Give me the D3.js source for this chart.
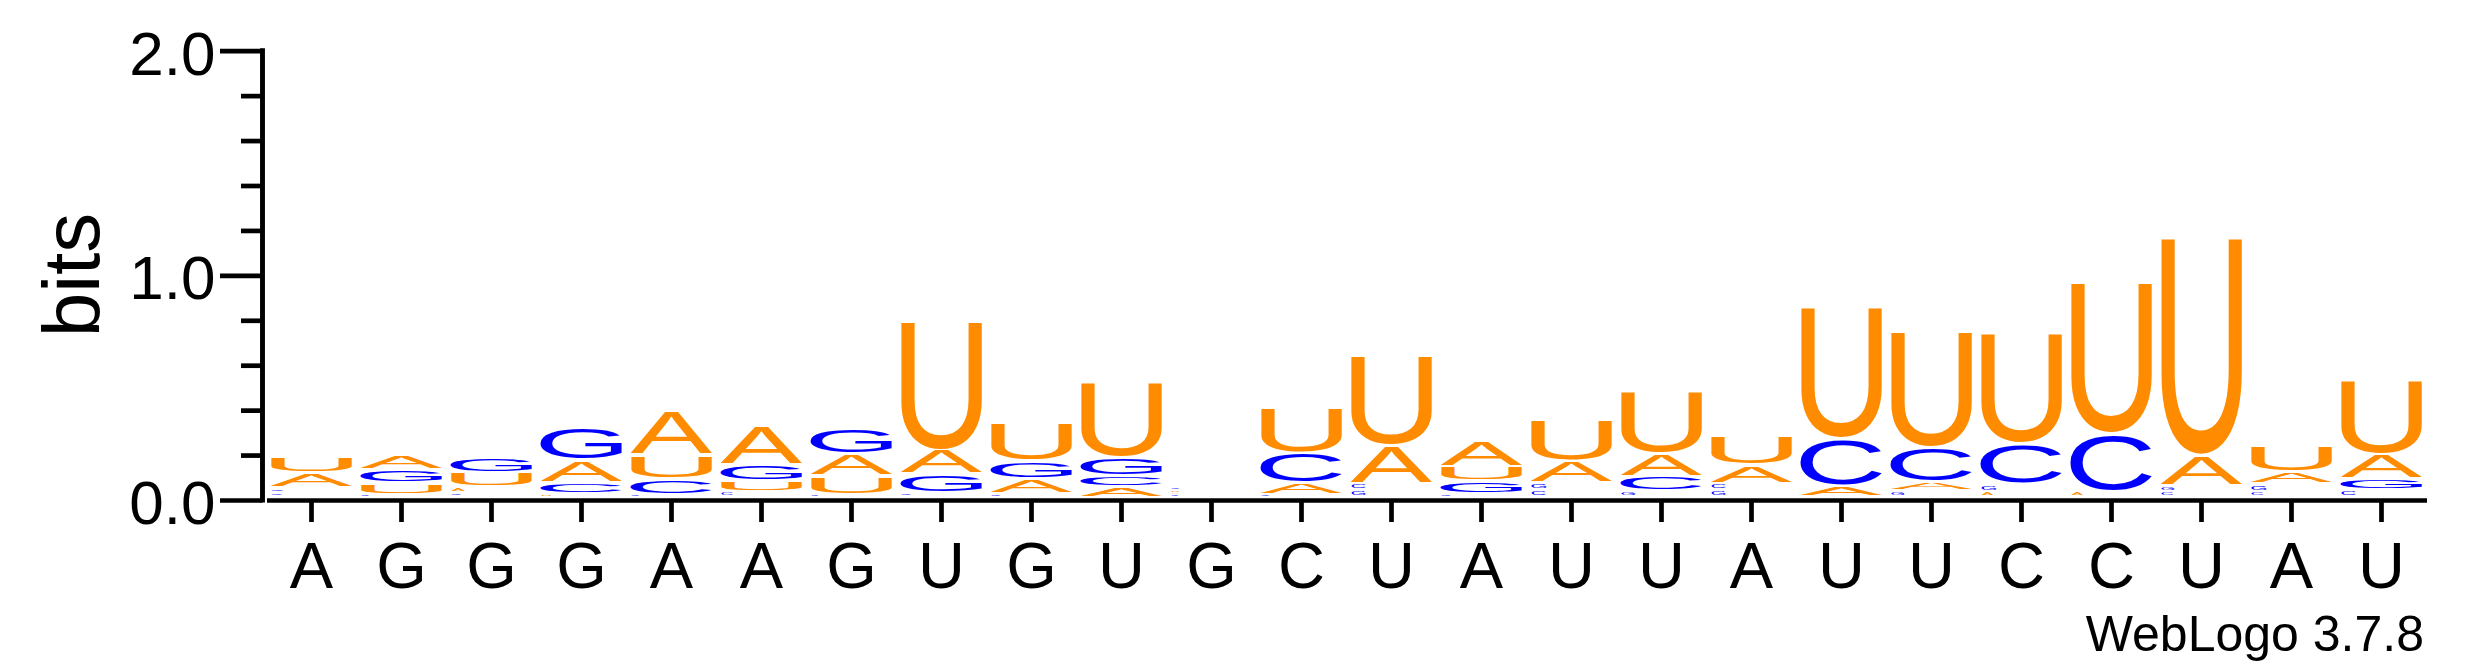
<!DOCTYPE html>
<html><head><meta charset="utf-8">
<script src="https://cdn.jsdelivr.net/npm/d3@7"></script>
<style>body{margin:0;background:#fff} svg{display:block}</style>
</head><body>
<svg id="chart" width="2475" height="667"></svg>
<script>
// ---- data ----
const consensus = ["A","G","G","G","A","A","G","U","G","U","G","C","U","A","U","U","A","U","U","C","C","U","A","U"];
const bitsA = [0.066,0.065,0.029,0.099,0.197,0.175,0.098,0.107,0.065,0.045,0.011,0.051,0.169,0.118,0.098,0.102,0.084,0.045,0.042,0.025,0.024,0.134,0.053,0.110];
const bitsC = [0.020,0.012,0.018,0.048,0.067,0.024,0.010,0.018,0.016,0.048,0.010,0.134,0.031,0.017,0.031,0.063,0.031,0.212,0.153,0.180,0.254,0.025,0.025,0.032];
const bitsG = [0.023,0.062,0.065,0.145,0.012,0.071,0.115,0.085,0.078,0.083,0.012,0.012,0.030,0.055,0.033,0.029,0.030,0.004,0.027,0.032,0.003,0.027,0.033,0.049];
const bitsU = [0.073,0.050,0.062,0.017,0.108,0.049,0.085,0.572,0.169,0.337,0.011,0.205,0.401,0.063,0.187,0.276,0.130,0.587,0.515,0.491,0.672,0.970,0.117,0.333];
const yMajorTicks = [0, 1, 2];
const yMinorTicks = [0.2,0.4,0.6,0.8,1.2,1.4,1.6,1.8];
const yTickLabels = ["0.0","1.0","2.0"];
const yTitle = "bits";
const footer = "WebLogo 3.7.8";
const letterColors = {A:"#ff8c00", U:"#ff8c00", C:"#0000ff", G:"#0000ff"};

// ---- setup ----
const svg = d3.select("#chart");
const FONT = '"Liberation Sans", Arial, Helvetica, sans-serif';
const x = d3.scaleBand().domain(d3.range(consensus.length)).range([266.5, 2426.5]).paddingInner(0).paddingOuter(0);
const y = d3.scaleLinear().domain([0, 2]).range([500, 50.7]);

// glyph ink metrics
const ctx = document.createElement("canvas").getContext("2d");
ctx.font = "100px " + FONT;
const metrics = {};
["A","C","G","U"].forEach(ch => {
  const m = ctx.measureText(ch);
  metrics[ch] = {l: m.actualBoundingBoxLeft, r: m.actualBoundingBoxRight, a: m.actualBoundingBoxAscent, d: m.actualBoundingBoxDescent};
});

const columns = consensus.map((c, i) => {
  const letters = [
    {ch:"A", v:bitsA[i]}, {ch:"C", v:bitsC[i]}, {ch:"G", v:bitsG[i]}, {ch:"U", v:bitsU[i]}
  ].sort((a, b) => a.v - b.v);
  let cum = 0;
  letters.forEach(l => { l.y0 = cum; cum += l.v; l.y1 = cum; l.i = i; });
  return letters;
});

const gLogo = svg.append("g");
const letterW = 82;
const lift = 3;
columns.forEach(col => {
  col.forEach(l => {
    const top = y(l.y1) - lift, bot = y(l.y0) - lift;
    const h = bot - top;
    const left = x(l.i) + x.bandwidth() / 2 - letterW / 2;
    let inkTop, inkH, w, x0;
    if (h >= 8) { inkTop = top + 1.5; inkH = h - 3; w = letterW; x0 = left; }
    else if (h >= 1.5) {
      // very small glyphs collapse to a tiny mark at the left of the column
      inkH = Math.max(1, h - 3.5); inkTop = top + (h - inkH) / 2;
      w = 3 + h * 1.6; x0 = left + 1;
    } else return;
    const m = metrics[l.ch];
    const sx = w / (m.l + m.r), sy = inkH / (m.a + m.d);
    gLogo.append("text")
      .attr("font-family", FONT).attr("font-size", 100)
      .attr("fill", letterColors[l.ch])
      .attr("transform", `translate(${x0},${inkTop}) scale(${sx},${sy}) translate(${m.l},${m.a})`)
      .text(l.ch);
  });
});

// ---- axes ----
const yAxisX = 262.5;
const gMinor = svg.append("g").attr("transform", `translate(${yAxisX},0)`)
  .call(d3.axisLeft(y).tickValues(yMinorTicks).tickSize(21.5).tickSizeOuter(0).tickFormat(""));
gMinor.select(".domain").remove();
gMinor.selectAll("text").remove();
const gY = svg.append("g").attr("transform", `translate(${yAxisX},0)`)
  .call(d3.axisLeft(y).tickValues(yMajorTicks).tickSize(42.5).tickSizeOuter(0).tickPadding(4.5)
    .tickFormat((d, i) => yTickLabels[i]));
[gMinor, gY].forEach(g => {
  g.selectAll("line").attr("stroke", "#000").attr("stroke-width", 4.7);
});
gY.select(".domain").attr("stroke", "#000").attr("stroke-width", 4.9).attr("d", `M0,${y(2)-2.4}V${y(0)+2.4}`);
gY.selectAll("text").attr("font-family", FONT).attr("font-size", 62).attr("fill", "#000").attr("dy", "0.38em");

const gX = svg.append("g").attr("transform", `translate(0,${y(0)})`)
  .call(d3.axisBottom(x).tickSize(22).tickSizeOuter(0).tickPadding(20).tickFormat(i => consensus[i]));
gX.selectAll("line").attr("stroke", "#000").attr("stroke-width", 4.7);
gX.select(".domain").attr("stroke", "#000").attr("stroke-width", 4.7);
gX.selectAll("text").attr("font-family", FONT).attr("font-size", 65).attr("fill", "#000");

svg.append("text").attr("transform", `translate(99,275) rotate(-90)`)
  .attr("text-anchor", "middle").attr("font-family", FONT).attr("font-size", 80).text(yTitle);

svg.append("text").attr("x", 2424).attr("y", 651).attr("text-anchor", "end")
  .attr("font-family", FONT).attr("font-size", 50).text(footer);
</script>
</body></html>
